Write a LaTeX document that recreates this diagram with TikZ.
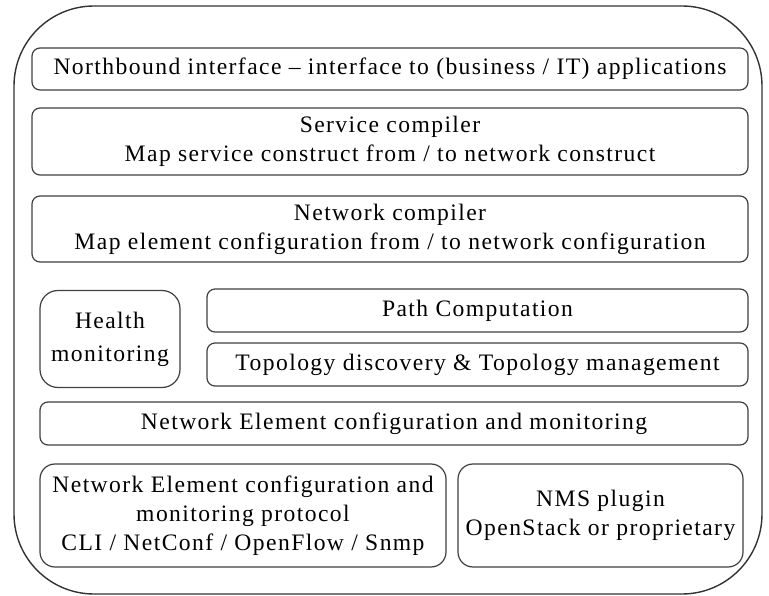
\documentclass[tikz,border=0pt]{standalone}
\usepackage{fontspec}
\setmainfont{Liberation Serif}[LetterSpace=6]
\usetikzlibrary{positioning}
\tikzset{
  laag/.style={draw=black!75,line width=1.2pt,rounded corners=8pt,fill=white,inner sep=0pt,
               align=center,font=\fontsize{23.6}{29}\selectfont},
  rand/.style={draw=black!80,line width=1.4pt,rounded corners=80pt,inner sep=0pt},
}
\begin{document}
\begin{tikzpicture}[x=1pt,y=-1pt]
  \useasboundingbox (0,0) rectangle (769,596);
  \node[rand,minimum width=748pt,minimum height=588pt] (frame) at (388,300) {};
  \node[laag,minimum width=716pt,minimum height=42pt] (nb) at (390,69)
    {Northbound interface -- interface to (business / IT) applications};
  \node[laag,minimum width=716pt,minimum height=67pt] (svc) at (390,141.5)
    {Service compiler\\Map service construct from / to network construct};
  \node[laag,minimum width=716pt,minimum height=66pt] (netc) at (390,229)
    {Network compiler\\Map element configuration from / to network configuration};
  \node[laag,rounded corners=18pt,minimum width=140pt,minimum height=97pt,
        font=\fontsize{23.6}{33}\selectfont] (health) at (110,339)
    {Health\\monitoring};
  \node[laag,minimum width=541pt,minimum height=43pt] (path) at (477.5,310.5) {Path Computation};
  \node[laag,minimum width=541pt,minimum height=43pt] (topo) at (477.5,364.5)
    {Topology discovery \& Topology management};
  \node[laag,minimum width=708pt,minimum height=43pt] (necm) at (394,423.5)
    {Network Element configuration and monitoring};
  \node[laag,rounded corners=15pt,minimum width=406pt,minimum height=103pt] (proto) at (243,515.5)
    {Network Element configuration and\\monitoring protocol\\CLI / NetConf / OpenFlow / Snmp};
  \node[laag,rounded corners=15pt,minimum width=285pt,minimum height=103pt] (nms) at (600.5,515.5)
    {NMS plugin\\OpenStack or proprietary};
\end{tikzpicture}
\end{document}
